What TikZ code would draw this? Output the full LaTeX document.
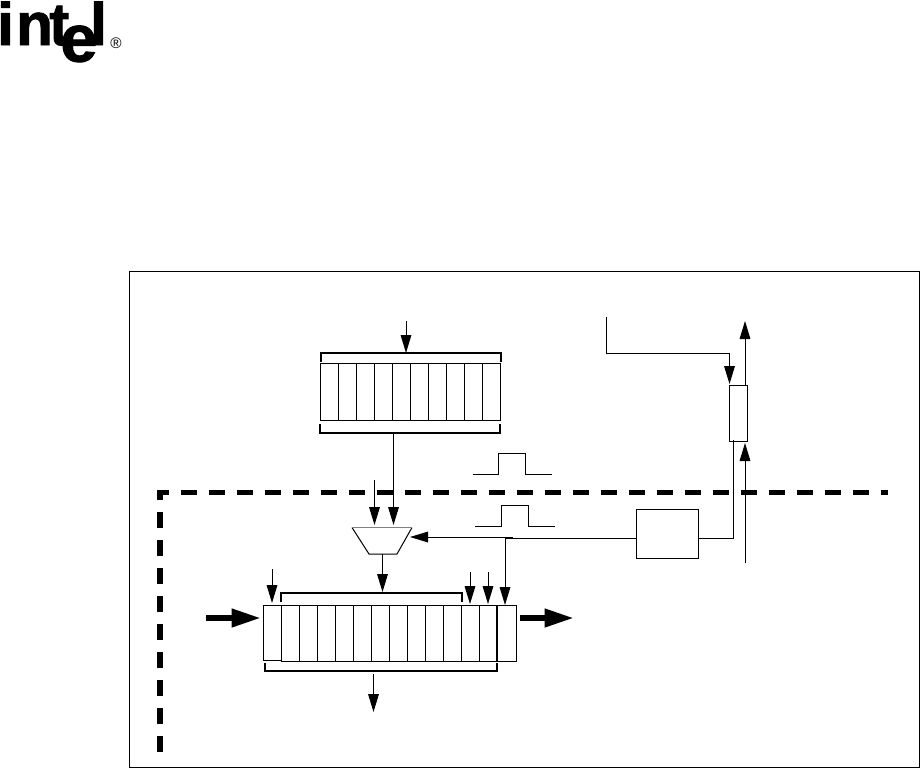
\documentclass[tikz,border=0pt]{standalone}
\usepackage{fontspec}
\setmainfont{Liberation Sans}
\newfontfamily\logofont[FakeBold=1.6]{Liberation Sans}
\usetikzlibrary{arrows.meta}
\tikzset{
  cellbox/.style={draw,anchor=north west,inner sep=0pt,line width=.75pt},
  boxa/.style={cellbox,minimum width=13.5pt,minimum height=42.75pt},
  boxb/.style={cellbox,minimum width=13.5pt,minimum height=42pt},
  wire/.style={line width=.75pt},
  brack/.style={line width=1.7pt},
  bus/.style={line width=4.5pt,-{Triangle[length=22pt,width=13pt]}},
  fence/.style={line width=4pt,dash pattern=on 12pt off 9pt},
  logo/.style={anchor=base west,inner sep=0pt,font=\fontsize{45}{45}\logofont\bfseries}
}
\begin{document}
\begin{tikzpicture}[x=.75pt,y=-.75pt,>={Triangle[length=13.5pt,width=8pt]}]
\useasboundingbox (0,0) rectangle (921,769);
% logo
\node[logo] (li) at (-3,45){i};
\node[logo] (ln) at (16,45){n};
\node[logo] (lt) at (49,45){t};
\node[logo,font=\fontsize{50}{50}\logofont\bfseries] (le) at (60,61.5){e};
\node[logo] (ll) at (90,45){l};
\node[anchor=base west,inner sep=0pt,font=\fontsize{11.5}{11.5}\selectfont] (lr) at (110,48.5){®};
% frame
\node[draw,line width=.75pt,anchor=north west,inner sep=0pt,minimum width=592.5pt,minimum height=372pt] (frame) at (129,271){};
% upper register
\foreach \i in {0,...,9}
  \node[boxa] (up\i) at ({320+18*\i},363){};
\coordinate (upa) at (321,362);
\coordinate (upb) at (321,353);
\coordinate (upc) at (501,353);
\coordinate (upd) at (501,362);
\draw[brack] (upa)--(upb)--(upc)--(upd);
\coordinate (upe) at (320,424);
\coordinate (upf) at (320,433);
\coordinate (upg) at (500,433);
\coordinate (uph) at (500,424);
\draw[brack] (upe)--(upf)--(upg)--(uph);
\coordinate (inup) at (406,321);
\draw[wire,->] (inup)--(inup|-upb);
% mux
\coordinate (muxtl) at (352,527.5);
\coordinate (muxtr) at (412,527.5);
\coordinate (muxbr) at (397,554);
\coordinate (muxbl) at (369,554);
\draw[wire] (muxtr)--(muxbr)--(muxbl)--(muxtl);
\draw[line width=1pt,gray] (muxtl)--(muxtr);
\coordinate (muxa) at (374.5,480);
\coordinate (muxb) at (393.5,433);
\coordinate (muxc) at (374.5,525);
\coordinate (muxd) at (393.5,525);
\draw[wire,->] (muxa)--(muxc);
\draw[wire,->] (muxb)--(muxd);
% pulses
\coordinate (pa) at (473,474);
\coordinate (pb) at (552,474);
\draw[wire] (pa)--(498,474)--(498,453.5)--(525,453.5)--(525,474)--(pb);
\coordinate (qa) at (475,526);
\coordinate (qb) at (555,526);
\draw[wire] (qa)--(501,526)--(501,505.5)--(528,505.5)--(528,526)--(qb);
% boundary
\coordinate (fa) at (160,752);
\coordinate (fb) at (160,492.5);
\coordinate (fc) at (888,492.5);
\draw[fence] (fa)--(fb)--(fc);
% lower register
\node[boxb,minimum height=41.25pt] (lowf) at (263,605){};
\foreach \i in {0,...,11}
  \node[boxb] (low\i) at ({281+18*\i},605){};
\node[boxb,minimum width=14.25pt] (lowl) at (497,605){};
\draw[line width=1.3pt] (lowl.north west)--(lowl.south west);
\coordinate (lowa) at (281,602);
\coordinate (lowb) at (281,593);
\coordinate (lowc) at (462,593);
\coordinate (lowd) at (462,602);
\draw[brack] (lowa)--(lowb)--(lowc)--(lowd);
\coordinate (lowe) at (265,663);
\coordinate (lowg) at (265,671);
\coordinate (lowh) at (497,671);
\coordinate (lowi) at (497,663);
\draw[brack] (lowe)--(lowg)--(lowh)--(lowi);
\coordinate (ina) at (272,569);
\coordinate (inb) at (470,572);
\coordinate (inc) at (488,572);
\draw[wire,->] (ina)--(272,603);
\draw[wire,->] (inb)--(470,604);
\draw[wire,->] (inc)--(488,604);
\draw[wire,->] (382.5,554)--(382.5,592);
\coordinate (outd) at (373.5,674);
\draw[wire,->] (outd)--(373.5,712);
\coordinate (buia) at (206,618);
\coordinate (buib) at (261,618);
\draw[bus] (buia)--(buib);
\coordinate (buoa) at (520,618);
\coordinate (buob) at (574,618);
\draw[bus] (buoa)--(buob);
% control block and latch
\node[cellbox,minimum width=46.5pt,minimum height=36.75pt] (ctl) at (636,509){};
\node[cellbox,minimum width=13.5pt,minimum height=42pt] (lat) at (729,385){};
\coordinate (ja) at (505,538.5);
\coordinate (jb) at (513,537);
\draw[wire] (ctl.west|-ja)--(ja);
\draw[wire,->] (jb)--(410,537);
\draw[wire,->] (ja)--(505,605);
\draw[wire] (ctl.east|-ja)-|(733,440);
\coordinate (ra) at (606,317);
\draw[wire,->] (ra)--(606,353)--(729.5,353)--(729.5,384);
\coordinate (rb) at (745,563);
\draw[wire,->] (rb)--(745,443);
\draw[wire,->] (745,385)--(745,321);
\end{tikzpicture}
\end{document}
